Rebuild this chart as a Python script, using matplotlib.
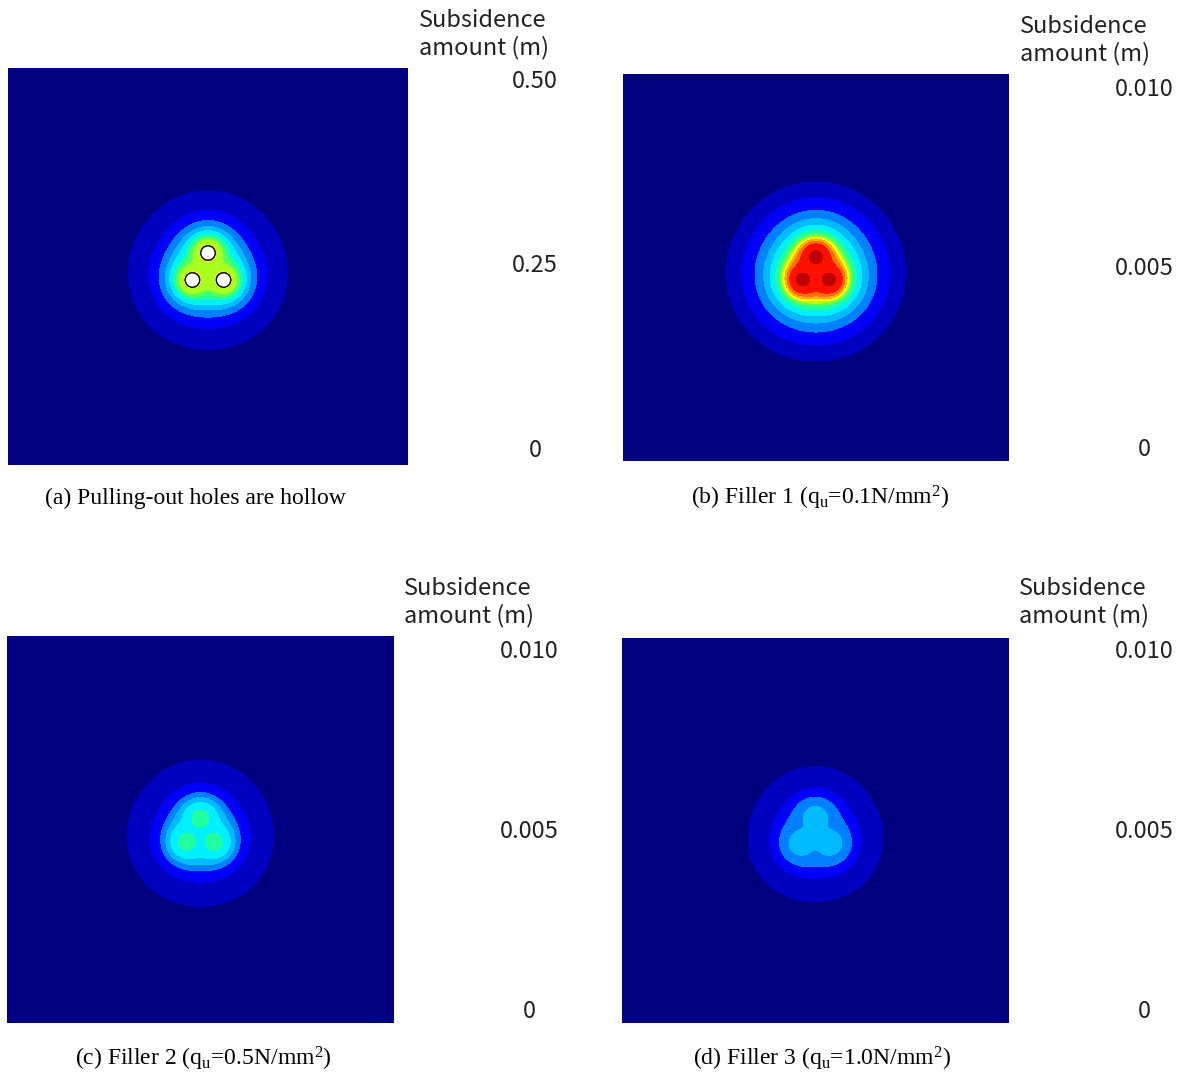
import numpy as np
import matplotlib
matplotlib.use('Agg')
import matplotlib.pyplot as plt
from matplotlib.colors import ListedColormap
from matplotlib.patches import Circle

plt.rcParams['mathtext.fontset'] = 'custom'
plt.rcParams['mathtext.rm'] = 'Liberation Serif'
plt.rcParams['mathtext.it'] = 'Liberation Serif:italic'

W, H = 1182, 1075

# panel captions and colour scale labels
captions = ['(a) Pulling-out holes are hollow',
            r'(b) Filler 1 ($\mathrm{q_u}$=0.1N/$\mathrm{mm^2}$)',
            r'(c) Filler 2 ($\mathrm{q_u}$=0.5N/$\mathrm{mm^2}$)',
            r'(d) Filler 3 ($\mathrm{q_u}$=1.0N/$\mathrm{mm^2}$)']
scale_max = [0.50, 0.010, 0.010, 0.010]
scale_labels = [['0.50', '0.25', '0'],
                ['0.010', '0.005', '0'],
                ['0.010', '0.005', '0'],
                ['0.010', '0.005', '0']]
hollow = [True, False, False, False]

# band colours of the subsidence scale (low -> high)
band_colors = ['#000080', '#0000c0', '#0000f8', '#0080ff', '#00bcff', '#00f0ff',
               '#20ffa0', '#50ff60', '#a8ff20', '#ffff00', '#ffb000', '#ff7000',
               '#ff1000', '#c00000']

# radius (px, distance from the three holes) where band 1, 2, 3 ... starts
radii_a = [77, 56, 45, 38, 33, 28, 24.5, 21, 12.6, 12.3, 12.1]
radii_b = [88, 72, 59, 50, 43, 37, 33, 30.5, 28.5, 26.5, 24, 20.5, 10.5]
radii_c = [71, 47, 36, 30, 24, 13.5]
radii_d = [65, 42, 31, 18.5]
band_radii = [radii_a, radii_b, radii_c, radii_d]

# spacing of the three pulling-out holes (px from their centre)
hole_ring = [18, 15, 16, 17]
hole_size = 7.2

# axes boxes in pixels: left, top, width, height
boxes = [(8, 68, 400, 397), (623, 74, 386, 387),
         (7, 636, 387, 387), (622, 638, 387, 385)]
label_pos = [(419, 9), (1020, 15), (404, 577), (1019, 577)]
tick_x = [535, 1144, 529, 1144]
tick_y = [(81, 265, 450), (89, 269, 449), (651, 831, 1011), (651, 831, 1011)]
caption_pos = [(195, 498), (820, 498), (203, 1059), (822, 1059)]

fig = plt.figure(figsize=(W / 100, H / 100), dpi=100)
nb = len(band_colors)
cmap = ListedColormap(band_colors)

for i in range(4):
    l, t, w, h = boxes[i]
    ax = fig.add_axes([l / W, 1 - (t + h) / H, w / W, h / H])
    x = np.linspace(0, w, 2 * w)
    y = np.linspace(0, h, 2 * h)
    X, Y = np.meshgrid(x, y)
    cx, cy = w / 2, h / 2 - 4.5
    R = hole_ring[i]
    holes = [(cx, cy + R),
             (cx - R * np.cos(np.pi / 6), cy - R / 2),
             (cx + R * np.cos(np.pi / 6), cy - R / 2)]
    inv = np.zeros_like(X)
    for hx, hy in holes:
        inv += 1.0 / ((X - hx) ** 2 + (Y - hy) ** 2 + 1e-6)
    deff = np.sqrt(3.0 / inv)

    levels = np.linspace(0, scale_max[i], nb + 1)
    step = levels[1]
    r = band_radii[i]
    n = len(r)
    xs = [0.0] + list(r[::-1]) + [400.0]
    vs = [levels[n] + 0.8 * step] + list(levels[n:0:-1]) + [0.1 * step]
    Z = np.interp(deff, xs, vs)
    ax.contourf(X, Y, Z, levels=levels, cmap=cmap, antialiased=False)
    if hollow[i]:
        for hx, hy in holes:
            ax.add_patch(Circle((hx, hy), hole_size, facecolor='white',
                                edgecolor='black', linewidth=1.0, zorder=3))
    ax.set_xlim(0, w)
    ax.set_ylim(0, h)
    ax.axis('off')

    lx, ly = label_pos[i]
    fig.text(lx / W, 1 - ly / H, 'Subsidence\namount (m)', ha='left', va='top',
             fontsize=17, family='Noto Sans CJK JP', color='#222222', linespacing=1.2)
    for lab, yy in zip(scale_labels[i], tick_y[i]):
        fig.text(tick_x[i] / W, 1 - yy / H, lab, ha='center', va='center',
                 fontsize=17, family='Noto Sans CJK JP', color='#222222')
    px, py = caption_pos[i]
    fig.text(px / W, 1 - py / H, captions[i], ha='center', va='center',
             fontsize=17, family='Liberation Serif', color='black')

fig.savefig('out.png', dpi=100)
